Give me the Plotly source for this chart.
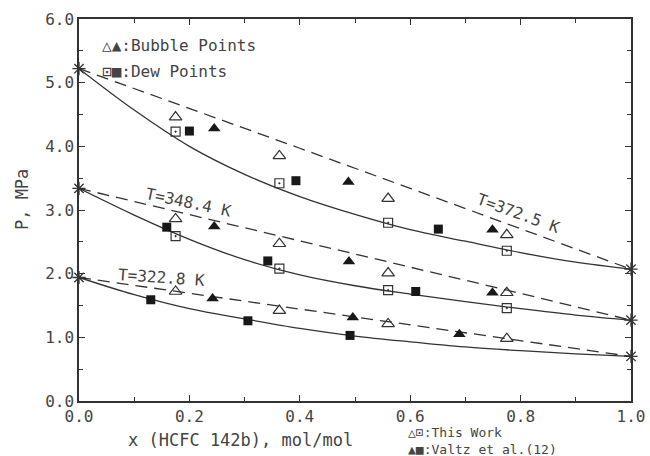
import plotly.graph_objects as go

# ---------------- data ----------------
x_end = [0.0, 1.0]
p_end_372 = [5.22, 2.07]
p_end_348 = [3.34, 1.27]
p_end_323 = [1.94, 0.70]

# bubble-point curves (dashed)
x_bub = [0.0, 0.2, 0.4, 0.6, 0.8, 1.0]
bub_372 = [5.22, 4.60, 3.97, 3.34, 2.71, 2.07]
bub_348 = [3.34, 2.93, 2.52, 2.10, 1.69, 1.27]
bub_323 = [1.94, 1.69, 1.44, 1.20, 0.95, 0.70]

# dew-point curves (solid)
x_dew = [0.0, 0.1, 0.2, 0.3, 0.4, 0.5, 0.6, 0.7, 0.8, 0.9, 1.0]
dew_372 = [5.22, 4.57, 4.00, 3.56, 3.21, 2.93, 2.69, 2.51, 2.33, 2.18, 2.07]
dew_348 = [3.34, 2.92, 2.54, 2.22, 1.98, 1.81, 1.68, 1.56, 1.45, 1.35, 1.27]
dew_323 = [1.94, 1.67, 1.45, 1.29, 1.14, 1.02, 0.93, 0.85, 0.79, 0.74, 0.70]

# This work
tw_x = [0.175, 0.363, 0.560, 0.775]
tw_bub_372 = [4.46, 3.85, 3.18, 2.61]
tw_bub_348 = [2.86, 2.47, 2.01, 1.70]
tw_bub_323 = [1.72, 1.42, 1.21, 0.98]
tw_dew_372 = [4.23, 3.42, 2.80, 2.36]
tw_dew_348 = [2.59, 2.08, 1.74, 1.46]

# Valtz et al. (12)
vb_x_372 = [0.245, 0.488, 0.749]
vb_p_372 = [4.28, 3.44, 2.69]
vb_x_348 = [0.245, 0.489, 0.749]
vb_p_348 = [2.74, 2.19, 1.70]
vb_x_323 = [0.242, 0.496, 0.689]
vb_p_323 = [1.61, 1.31, 1.05]
vd_x_372 = [0.200, 0.393, 0.651]
vd_p_372 = [4.24, 3.46, 2.70]
vd_x_348 = [0.159, 0.342, 0.610]
vd_p_348 = [2.73, 2.20, 1.72]
vd_x_323 = [0.130, 0.306, 0.491]
vd_p_323 = [1.59, 1.26, 1.03]

x_ticks = [0.0, 0.2, 0.4, 0.6, 0.8, 1.0]
x_ticktext = ["0.0", "0.2", "0.4", "0.6", "0.8", "1.0"]
y_ticks = [0, 1, 2, 3, 4, 5, 6]
y_ticktext = ["0.0", "1.0", "2.0", "3.0", "4.0", "5.0", "6.0"]

temp_labels = ["T=372.5 K", "T=348.4 K", "T=322.8 K"]
temp_label_x = [0.797, 0.199, 0.150]
temp_label_p = [2.95, 3.12, 1.94]
temp_label_angle = [20, 12, 4]

# ---------------- style ----------------
INK = "#333333"
TXT = "#444444"
FONT = "DejaVu Sans Mono"
DASH = "12px,7px"

fig = go.Figure()

for yb in (bub_372, bub_348, bub_323):
    fig.add_trace(go.Scatter(x=x_bub, y=yb, mode="lines",
                             line=dict(color=INK, width=1.3, dash=DASH),
                             cliponaxis=False, hoverinfo="skip"))
for yd in (dew_372, dew_348, dew_323):
    fig.add_trace(go.Scatter(x=x_dew, y=yd, mode="lines",
                             line=dict(color=INK, width=1.3, shape="spline", smoothing=1.0),
                             cliponaxis=False, hoverinfo="skip"))

for pe in (p_end_372, p_end_348, p_end_323):
    fig.add_trace(go.Scatter(x=x_end, y=pe, mode="markers",
                             marker=dict(symbol="asterisk-open", size=11, color=INK,
                                         line=dict(color=INK, width=1.3)),
                             cliponaxis=False))

for yb in (tw_bub_372, tw_bub_348, tw_bub_323):
    fig.add_trace(go.Scatter(x=tw_x, y=yb, mode="markers",
                             marker=dict(symbol="triangle-up-open", size=11, color=INK,
                                         line=dict(color=INK, width=1.2)),
                             cliponaxis=False))
for yd in (tw_dew_372, tw_dew_348):
    fig.add_trace(go.Scatter(x=tw_x, y=yd, mode="markers",
                             marker=dict(symbol="square-open-dot", size=9, color=INK,
                                         line=dict(color=INK, width=1.2)),
                             cliponaxis=False))

for xs, ys in ((vb_x_372, vb_p_372), (vb_x_348, vb_p_348), (vb_x_323, vb_p_323)):
    fig.add_trace(go.Scatter(x=xs, y=ys, mode="markers",
                             marker=dict(symbol="triangle-up", size=11, color="#181818"),
                             cliponaxis=False))
for xs, ys in ((vd_x_372, vd_p_372), (vd_x_348, vd_p_348), (vd_x_323, vd_p_323)):
    fig.add_trace(go.Scatter(x=xs, y=ys, mode="markers",
                             marker=dict(symbol="square", size=9, color="#181818"),
                             cliponaxis=False))

annotations = []
for t, tx, tp, ang in zip(temp_labels, temp_label_x, temp_label_p, temp_label_angle):
    annotations.append(dict(x=tx, y=tp, xref="x", yref="y", text=t, showarrow=False,
                            textangle=ang, font=dict(family=FONT, size=16, color=TXT)))

txt_font = dict(family=FONT, size=16, color=TXT)
leg2_font = dict(family=FONT, size=13, color=TXT)
annotations += [
    dict(xref="paper", yref="paper", x=0.038, y=1, yshift=-26, xanchor="left",
         yanchor="middle", text="△▲:Bubble Points", showarrow=False, font=txt_font),
    dict(xref="paper", yref="paper", x=0.038, y=1, yshift=-52, xanchor="left",
         yanchor="middle", text="⊡■:Dew Points", showarrow=False, font=txt_font),
    dict(xref="paper", yref="paper", x=0.592, y=0, yshift=-40, xanchor="left",
         yanchor="middle", align="left",
         text="△⊡:This Work<br>▲■:Valtz et al.(12)", showarrow=False, font=leg2_font),
    dict(xref="paper", yref="paper", x=0.292, y=0, yshift=-39, xanchor="center",
         yanchor="middle", text="x (HCFC 142b), mol/mol", showarrow=False,
         font=dict(family=FONT, size=17, color=TXT)),
    dict(xref="paper", yref="paper", x=0, xshift=-57, y=0.526, xanchor="center",
         yanchor="middle", text="P, MPa", textangle=-90, showarrow=False,
         font=dict(family=FONT, size=17, color=TXT)),
]

axis_common = dict(showline=True, linecolor=INK, linewidth=1.5, mirror="ticks",
                   ticks="inside", ticklen=6, tickwidth=1.2, tickcolor=INK,
                   showgrid=False, zeroline=False, automargin=False,
                   tickfont=dict(family=FONT, size=16, color=TXT))

fig.update_layout(
    width=650, height=456,
    margin=dict(l=79, r=19, t=19, b=55, autoexpand=False),
    paper_bgcolor="white", plot_bgcolor="white",
    showlegend=False,
    annotations=annotations,
    xaxis=dict(range=[0, 1], tickvals=x_ticks, ticktext=x_ticktext,
               minor=dict(dtick=0.1, ticks="inside", ticklen=4, tickcolor=INK, tickwidth=1.2),
               **axis_common),
    yaxis=dict(range=[0, 6], tickvals=y_ticks, ticktext=y_ticktext,
               minor=dict(dtick=0.5, ticks="inside", ticklen=4, tickcolor=INK, tickwidth=1.2),
               **axis_common),
)

fig.write_html(
    "out.html",
    config={"displayModeBar": False},
    post_script="document.body.style.margin='0px';document.body.style.overflow='hidden';",
)
